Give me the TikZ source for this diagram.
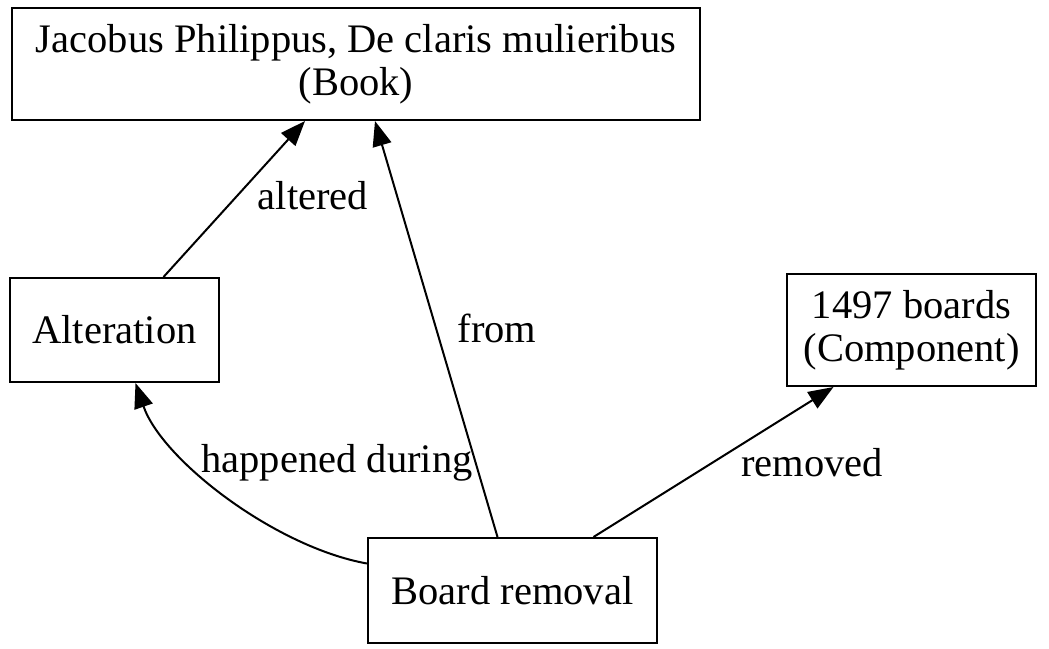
\documentclass[tikz,border=0pt]{standalone}
\usepackage{fontspec}
\setmainfont{Liberation Serif}
\usetikzlibrary{arrows.meta,calc}
\begin{document}
\begin{tikzpicture}[x=1pt,y=-1pt,
  box/.style={draw,line width=2pt,inner sep=0pt,align=center,font=\fontsize{40.5}{43}\selectfont},
  lbl/.style={inner sep=0pt,font=\fontsize{40.5}{43}\selectfont},
  edge/.style={line width=2pt,-{Triangle[length=25pt,width=19pt]}}]
\useasboundingbox (0,0) rectangle (1049,648);
\node[box,minimum width=688pt,minimum height=112pt] (book) at (356,64) {Jacobus Philippus, De claris mulieribus\\(Book)};
\node[box,minimum width=209pt,minimum height=104pt] (alt) at (114.5,330) {Alteration};
\node[box,minimum width=249pt,minimum height=112pt] (boards) at (911.5,330) {1497 boards\\(Component)};
\node[box,minimum width=289pt,minimum height=105pt] (br) at (512.5,590.5) {Board removal};
\draw[edge] ($(alt.north)+(49,0)$) -- ($(book.south)+(-51,0)$);
\draw[edge] ($(br.north)+(-15,0)$) -- ($(book.south)+(19,0)$);
\draw[edge] ($(br.north)+(81,0)$) -- ($(boards.south)+(-78,0)$);
\draw[edge] ($(br.west)+(0,-27)$) .. controls (275,547) and (162,460) .. ($(alt.south)+(21,0)$);
\node[lbl] (l1) at (313,196) {altered};
\node[lbl] (l2) at (497,328) {from};
\node[lbl] (l3) at (337,463) {happened during};
\node[lbl] (l4) at (812,463) {removed};
\end{tikzpicture}
\end{document}
